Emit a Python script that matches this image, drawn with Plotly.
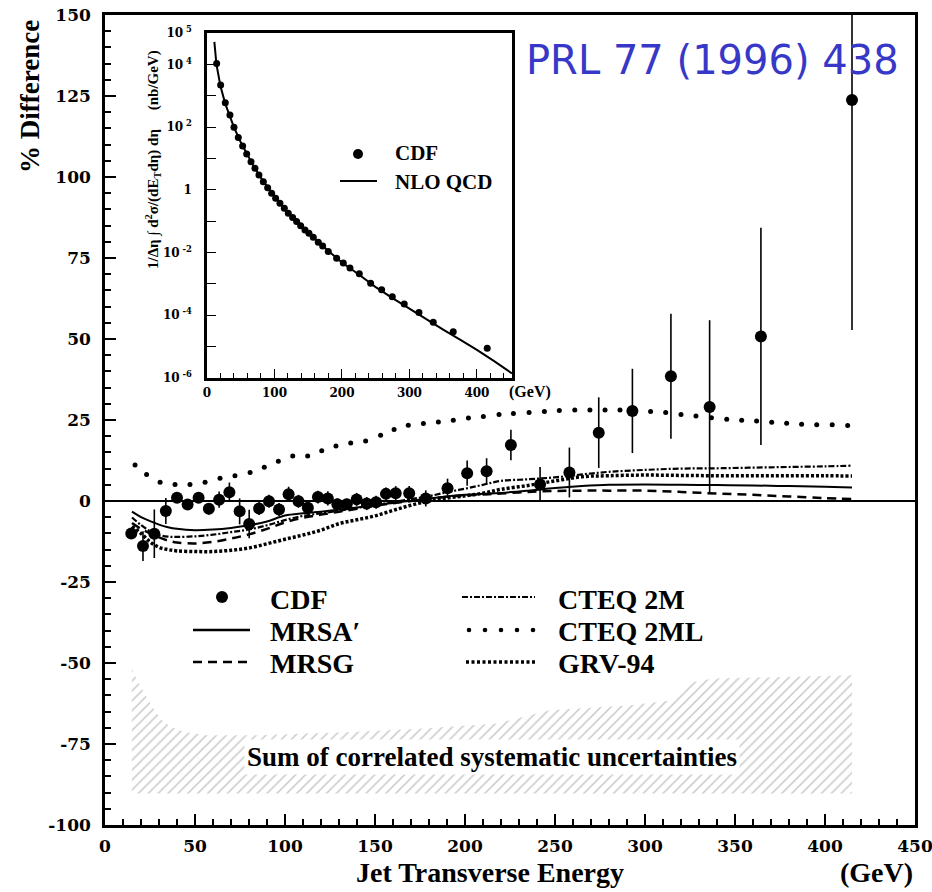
import plotly.graph_objects as go

# ---------------- main panel: CDF data (% difference from NLO QCD) ----------------
cdf_et = [14.6, 21.1, 27.4, 33.8, 40.0, 45.9, 52.0, 57.7, 63.4, 69.1, 74.8, 80.1, 85.6, 91.1,
          96.7, 102.0, 107.5, 112.7, 118.3, 123.8, 129.1, 134.3, 139.8, 145.4, 150.6, 156.1,
          161.5, 169.0, 178.2, 190.3, 201.2, 212.0, 225.5, 241.7, 258.0, 274.3, 293.0, 314.4,
          335.9, 364.4, 415.0]
cdf_diff = [-10.0, -13.9, -10.1, -3.1, 1.0, -1.1, 1.0, -2.4, 0.4, 2.7, -3.2, -7.1, -2.3, -0.1,
            -2.6, 2.1, -0.1, -2.1, 1.2, 0.8, -1.0, -1.0, 0.5, -0.8, -0.4, 2.2,
            2.4, 2.4, 0.8, 3.9, 8.6, 9.2, 17.3, 5.1, 8.8, 21.1, 27.8, 38.5,
            29.0, 50.8, 123.8]
cdf_err = [1.5, 4.6, 7.5, 4.0, 1.5, 1.5, 1.5, 1.8, 2.5, 3.0, 4.0, 4.4, 2.0, 2.0,
           2.0, 2.3, 2.0, 2.0, 2.0, 2.2, 1.8, 1.8, 2.0, 2.0, 2.0, 2.0,
           2.2, 2.2, 2.5, 3.0, 3.9, 4.0, 4.7, 5.4, 7.7, 10.9, 13.0, 19.3,
           26.8, 33.5, 71.0]

# ---------------- theory curves (% difference) ----------------
theory_et = [15, 20, 25, 30, 35, 40, 50, 60, 70, 80, 90, 100, 110, 120, 130, 140, 150, 160,
             170, 180, 190, 200, 210, 220, 235, 250, 265, 280, 300, 320, 340, 360, 380, 400, 415]
mrsa = [-3.3, -5.0, -6.2, -7.3, -8.1, -8.6, -9.0, -8.8, -8.3, -7.5, -6.3, -4.5, -3.8, -3.3,
        -2.6, -2.0, -1.3, -0.6, 0.1, 0.8, 1.4, 1.9, 2.2, 2.5, 3.2, 4.0, 4.6, 5.0, 5.1, 5.0,
        4.9, 4.8, 4.6, 4.4, 4.2]
mrsg = [-6.8, -8.6, -10.0, -11.2, -12.2, -12.8, -13.1, -12.6, -11.6, -10.3, -8.6, -6.6, -5.2,
        -4.2, -3.3, -2.4, -1.5, -0.7, 0.0, 0.7, 1.3, 1.7, 2.0, 2.3, 2.8, 3.1, 3.2, 3.2, 3.2,
        2.8, 2.3, 1.9, 1.4, 0.9, 0.6]
cteq2m = [-5.1, -7.4, -9.3, -10.5, -11.0, -11.1, -10.9, -10.4, -9.6, -8.8, -7.5, -5.9, -4.6,
          -3.8, -3.0, -2.1, -1.2, -0.3, 0.6, 1.5, 2.7, 3.8, 5.0, 6.2, 6.7, 7.3, 8.2, 9.0, 9.6,
          10.0, 10.1, 10.3, 10.5, 10.7, 10.9]
grv94 = [-7.8, -10.0, -12.6, -14.3, -15.0, -15.4, -15.6, -15.6, -15.2, -14.5, -13.2, -11.8,
         -10.5, -9.0, -7.0, -5.8, -4.6, -2.9, -1.3, 0.0, 0.9, 1.6, 2.4, 3.6, 4.8, 6.2, 7.5,
         7.8, 8.0, 7.9, 7.8, 7.8, 7.8, 7.8, 7.7]
cteq2ml_et = [16.7, 23.1, 30.6, 38.9, 47.2, 55.6, 63.9, 72.2, 80.6, 88.5, 96.3, 104.3, 112.6,
              120.4, 128.3, 136.5, 144.8, 153.1, 160.6, 168.5, 176.9, 185.2, 193.5, 201.9,
              210.2, 218.9, 226.9, 235.6, 244.1, 252.4, 261.0, 269.4, 277.8, 286.1, 294.4,
              303.1, 311.5, 320.0, 328.3, 336.9, 345.4, 353.7, 362.0, 370.4, 378.7, 387.0,
              395.4, 404.0, 412.6]
cteq2ml = [11.1, 8.2, 5.8, 5.1, 5.1, 5.8, 7.0, 7.8, 8.8, 10.4, 12.3, 13.9, 13.9, 15.5, 17.0,
           17.9, 18.5, 20.3, 22.1, 23.4, 23.9, 24.4, 24.9, 25.6, 26.1, 26.7, 27.0, 27.3, 27.6,
           27.9, 28.1, 28.1, 28.1, 28.1, 27.9, 27.6, 27.3, 26.7, 26.2, 25.7, 25.2, 24.9, 24.7,
           24.3, 24.0, 23.7, 23.5, 23.5, 23.3]

# ---------------- correlated systematic band ----------------
band_et = [14.9, 18, 23.7, 28, 32.5, 38, 44.3, 56, 85, 138, 174, 218, 232, 247, 291, 315,
           322, 327, 338, 415]
band_top = [-51.8, -55.5, -61.0, -65.0, -68.2, -70.0, -71.3, -72.3, -72.3, -71.3, -70.3,
            -68.7, -66.7, -64.6, -63.1, -61.5, -58.0, -55.9, -54.8, -53.8]
band_low_et = [14.9, 415]
band_low = [-90.3, -90.3]

# ---------------- inset: cross section ----------------
xs_et = [14.3, 20.2, 27.1, 34.0, 40.0, 46.4, 52.8, 58.8, 65.2, 71.1, 77.0, 83.5, 89.9, 95.8,
         101.7, 108.1, 114.6, 120.5, 126.9, 132.8, 138.8, 145.2, 151.1, 157.5, 164.9, 171.4,
         179.7, 192.1, 202.0, 211.9, 225.7, 242.5, 258.8, 274.6, 292.3, 314.1, 335.3, 364.9,
         415.3]
xs_cdf = [1.07e4, 2.19e3, 6.0e2, 2.45e2, 98, 47, 25, 13.8, 7.9, 4.9, 2.95, 1.82, 1.17, 0.78,
          0.54, 0.37, 0.26, 0.178, 0.132, 0.098, 0.072, 0.052, 0.041, 0.031, 0.0214, 0.0162,
          0.0107, 6.6e-3, 4.6e-3, 3.2e-3, 2.1e-3, 1.05e-3, 6.5e-4, 3.9e-4, 2.3e-4, 1.23e-4,
          6.0e-5, 3.0e-5, 8.9e-6]
nlo_et = [10.9, 14, 20, 27, 34, 40, 50, 60, 70, 80, 90, 100, 120, 140, 160, 180, 200, 225,
          250, 275, 300, 325, 350, 375, 400, 425, 452]
nlo = [5.2e4, 1.0e4, 2.0e3, 5.6e2, 2.2e2, 98, 33, 12.6, 5.2, 2.4, 1.15, 0.6, 0.18, 0.068,
       0.027, 0.0112, 4.8e-3, 2.0e-3, 7.9e-4, 3.5e-4, 1.6e-4, 7.6e-5, 3.5e-5, 1.66e-5,
       7.9e-6, 3.5e-6, 1.4e-6]

main_x_ticks = [0, 50, 100, 150, 200, 250, 300, 350, 400, 450]
main_x_labels = ["0", "50", "100", "150", "200", "250", "300", "350", "400", "450"]
main_y_ticks = [-100, -75, -50, -25, 0, 25, 50, 75, 100, 125, 150]
main_y_labels = ["-100", "-75", "-50", "-25", "0", "25", "50", "75", "100", "125", "150"]
inset_x_ticks = [0, 100, 200, 300, 400]
inset_y_major = [1e5, 1e4, 1e3, 1e2, 1e1, 1, 1e-1, 1e-2, 1e-3, 1e-4, 1e-5, 1e-6]
inset_y_labels = ["10<sup> 5</sup>", "10<sup> 4</sup>", "", "10<sup> 2</sup>", "", "1", "",
                  "10<sup> -2</sup>", "", "10<sup> -4</sup>", "", "10<sup> -6</sup>"]

SERIF = "Liberation Serif, Times New Roman, serif"
TICKF = "DejaVu Serif, serif"

# pixel -> paper helpers (plot area: x 105..915, y 15..825)
L, R, T, B = 105, 915, 15, 825
def pxx(p):
    return (p - L) / (R - L)
def pxy(p):
    return (B - p) / (B - T)

fig = go.Figure()

# hatched band
fig.add_trace(go.Scatter(x=band_low_et, y=band_low, mode="lines", line=dict(width=0, color="rgba(0,0,0,0)"),
                         showlegend=False, hoverinfo="skip"))
fig.add_trace(go.Scatter(x=band_et, y=band_top, mode="lines", line=dict(width=0, color="rgba(0,0,0,0)"),
                         fill="tonexty", fillcolor="white",
                         fillpattern=dict(shape="/", fgcolor="#8c8c8c", bgcolor="white",
                                          size=7, solidity=0.2),
                         showlegend=False, hoverinfo="skip"))

# theory curves
fig.add_trace(go.Scatter(x=theory_et, y=grv94, mode="lines", line_shape="spline",
                         line=dict(color="black", width=3.5, dash="3px,2px"), showlegend=False))
fig.add_trace(go.Scatter(x=theory_et, y=mrsg, mode="lines", line_shape="spline",
                         line=dict(color="black", width=2.5, dash="9px,6px"), showlegend=False))
fig.add_trace(go.Scatter(x=theory_et, y=cteq2m, mode="lines", line_shape="spline",
                         line=dict(color="black", width=2.2, dash="6px,2px,2px,2px"), showlegend=False))
fig.add_trace(go.Scatter(x=theory_et, y=mrsa, mode="lines", line_shape="spline",
                         line=dict(color="black", width=2), showlegend=False))
fig.add_trace(go.Scatter(x=cteq2ml_et, y=cteq2ml, mode="markers",
                         marker=dict(color="black", size=5), showlegend=False))

# CDF data
fig.add_trace(go.Scatter(x=cdf_et, y=cdf_diff, mode="markers",
                         marker=dict(color="black", size=12),
                         error_y=dict(type="data", array=cdf_err, width=0, thickness=1.6, color="black"),
                         showlegend=False))

# inset
fig.add_trace(go.Scatter(x=nlo_et, y=nlo, mode="lines", line=dict(color="black", width=2),
                         xaxis="x2", yaxis="y2", showlegend=False))
fig.add_trace(go.Scatter(x=xs_et, y=xs_cdf, mode="markers", marker=dict(color="black", size=7),
                         xaxis="x2", yaxis="y2", showlegend=False))

inset_x0, inset_x1 = pxx(207), pxx(512)
inset_y0, inset_y1 = pxy(378), pxy(33)

main_tickfont = dict(family=TICKF, size=17, color="black", weight="bold")
inset_tickfont = dict(family=TICKF, size=12, color="black", weight="bold")

fig.update_layout(
    width=932, height=892,
    margin=dict(l=L, r=932 - R, t=T, b=892 - B, autoexpand=False),
    paper_bgcolor="white", plot_bgcolor="white",
    xaxis=dict(range=[0, 450], tickvals=main_x_ticks, ticktext=main_x_labels, ticks="inside",
               ticklen=11, tickwidth=1.5, tickcolor="black",
               minor=dict(dtick=10, ticks="inside", ticklen=6, tickcolor="black"),
               showline=True, linewidth=2.5, linecolor="black", mirror=True, showgrid=False,
               zeroline=False, tickfont=main_tickfont, ticklabelstandoff=4, automargin=False,
               ticklabeloverflow="allow"),
    yaxis=dict(range=[-100, 150], tickvals=main_y_ticks, ticktext=main_y_labels, ticks="inside",
               ticklen=11, tickwidth=1.5, tickcolor="black",
               minor=dict(dtick=5, ticks="inside", ticklen=6, tickcolor="black"),
               showline=True, linewidth=2.5, linecolor="black", mirror=True, showgrid=False,
               zeroline=True, zerolinecolor="black", zerolinewidth=1.5,
               tickfont=main_tickfont, ticklabelstandoff=8, automargin=False,
               ticklabeloverflow="allow"),
    xaxis2=dict(domain=[inset_x0, inset_x1], anchor="y2", range=[0, 452],
                tickvals=inset_x_ticks, ticks="inside", ticklen=9, tickcolor="black",
                minor=dict(dtick=20, ticks="inside", ticklen=5, tickcolor="black"),
                showline=True, linewidth=2.5, linecolor="black", mirror=True, showgrid=False,
                zeroline=False, tickfont=inset_tickfont, ticklabelstandoff=2, automargin=False),
    yaxis2=dict(domain=[inset_y0, inset_y1], anchor="x2", type="log", range=[-6, 5],
                tickvals=inset_y_major, ticktext=inset_y_labels, ticks="inside", ticklen=9,
                tickcolor="black", showline=True, linewidth=2.5, linecolor="black", mirror=True,
                showgrid=False, zeroline=False, tickfont=inset_tickfont, ticklabelstandoff=10,
                automargin=False),
)

shapes = []
# inset white background to cover main panel
shapes.append(dict(type="rect", xref="paper", yref="paper", x0=inset_x0, x1=inset_x1,
                   y0=inset_y0, y1=inset_y1, fillcolor="white", line=dict(width=0), layer="below"))
# main legend samples
shapes.append(dict(type="circle", xref="paper", yref="paper", x0=pxx(216), x1=pxx(228),
                   y0=pxy(603), y1=pxy(591), fillcolor="black", line=dict(width=0)))
shapes.append(dict(type="line", xref="paper", yref="paper", x0=pxx(193), x1=pxx(250),
                   y0=pxy(630), y1=pxy(630), line=dict(color="black", width=2.5)))
shapes.append(dict(type="line", xref="paper", yref="paper", x0=pxx(193), x1=pxx(252),
                   y0=pxy(662), y1=pxy(662), line=dict(color="black", width=2.5, dash="9px,6px")))
shapes.append(dict(type="line", xref="paper", yref="paper", x0=pxx(462), x1=pxx(535),
                   y0=pxy(597), y1=pxy(597), line=dict(color="black", width=2.2, dash="6px,2px,2px,2px")))
for cx in [469, 485, 501, 517, 533]:
    shapes.append(dict(type="circle", xref="paper", yref="paper", x0=pxx(cx - 2.3), x1=pxx(cx + 2.3),
                       y0=pxy(632.3), y1=pxy(627.7), fillcolor="black", line=dict(width=0)))
shapes.append(dict(type="line", xref="paper", yref="paper", x0=pxx(466), x1=pxx(536),
                   y0=pxy(662), y1=pxy(662), line=dict(color="black", width=3.5, dash="3px,2.5px")))
# inset legend samples
shapes.append(dict(type="circle", xref="paper", yref="paper", x0=pxx(353), x1=pxx(363),
                   y0=pxy(159), y1=pxy(149), fillcolor="black", line=dict(width=0)))
shapes.append(dict(type="line", xref="paper", yref="paper", x0=pxx(340), x1=pxx(377),
                   y0=pxy(181), y1=pxy(181), line=dict(color="black", width=2)))
fig.update_layout(shapes=shapes)

ann = []
def txt(x, y, s, size, xanchor="left", family=SERIF, color="black", angle=0, bg=None, yanchor="middle"):
    d = dict(x=pxx(x), y=pxy(y), xref="paper", yref="paper", text=s, showarrow=False,
             xanchor=xanchor, yanchor=yanchor, textangle=angle,
             font=dict(family=family, size=size, color=color))
    if bg:
        d["bgcolor"] = bg
        d["borderpad"] = 2
    ann.append(d)

LEGF = 28
txt(268, 599, "<b>CDF</b>", LEGF)
txt(268, 631, "<b>MRSA′</b>", LEGF)
txt(268, 663, "<b>MRSG</b>", LEGF)
txt(556, 599, "<b>CTEQ 2M</b>", LEGF)
txt(556, 631, "<b>CTEQ 2ML</b>", LEGF)
txt(556, 663, "<b>GRV-94</b>", LEGF)

txt(492, 757, "<b>Sum of correlated systematic uncertainties</b>", 27, xanchor="center", bg="white")

txt(393, 153, "<b>CDF</b>", 21)
txt(393, 182, "<b>NLO QCD</b>", 21)
txt(530, 392, "<b>(GeV)</b>", 16, xanchor="center")
txt(153, 160, "<b>1/Δη ∫ d<sup>2</sup>σ/(dE<sub>T</sub>dη) dη\u00a0\u00a0\u00a0\u00a0\u00a0(nb/GeV)</b>",
    15, xanchor="center", angle=-90)

txt(30, 97, "<b>% Difference</b>", 27, xanchor="center", angle=-90)
txt(490, 872, "<b>Jet Transverse Energy</b>", 28, xanchor="center")
txt(876, 872, "<b>(GeV)</b>", 28, xanchor="center")

txt(712, 60, "PRL 77 (1996) 438", 40, xanchor="center", family="DejaVu Sans", color="#3838c8")

fig.update_layout(annotations=ann)

fig.write_html("out.html", config={"displayModeBar": False},
               post_script="document.body.style.margin='0';document.body.style.overflow='hidden';")
